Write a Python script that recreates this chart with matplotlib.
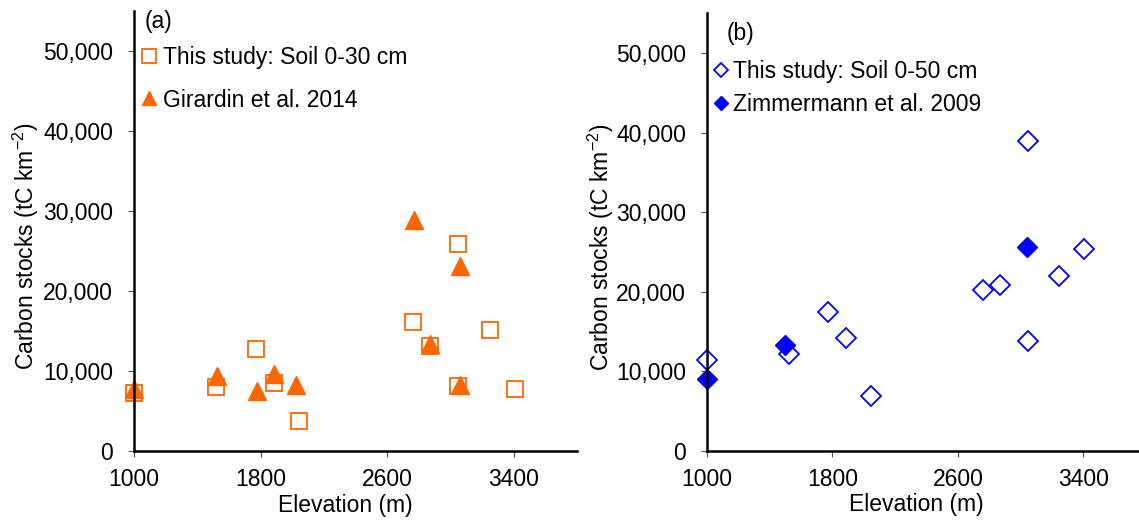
import matplotlib
matplotlib.use('Agg')
import matplotlib.pyplot as plt
from matplotlib.ticker import FuncFormatter

plt.rcParams['font.family'] = ['Liberation Sans', 'DejaVu Sans']
plt.rcParams['mathtext.default'] = 'regular'

# Panel (a): soil 0-30 cm vs Girardin et al. 2014
elev_a = [1000, 1520, 1770, 1885, 2045, 2765, 2870, 3050, 3050, 3250, 3410]
soil_30 = [7300, 8050, 12700, 8550, 3800, 16150, 13150, 25900, 8150, 15150, 7800]
elev_gir = [1000, 1525, 1780, 1885, 2025, 2768, 2872, 3058, 3058]
girardin = [7700, 9350, 7550, 9650, 8300, 28850, 13350, 23100, 8200]

# Panel (b): soil 0-50 cm vs Zimmermann et al. 2009
elev_b = [1000, 1520, 1770, 1885, 2045, 2762, 2868, 3050, 3048, 3245, 3405]
soil_50 = [11400, 12100, 17400, 14150, 6850, 20200, 20800, 38950, 13850, 22000, 25350]
elev_zim = [1000, 1500, 3040]
zimmermann = [9050, 13350, 25600]

xticks = [1000, 1800, 2600, 3400]
yticks = [0, 10000, 20000, 30000, 40000, 50000]

orange = '#FF6600'
blue = '#0000FF'
fs = 16.5

fig = plt.figure(figsize=(11.39, 5.2), dpi=100)
ax1 = fig.add_axes([0.1176, 0.1327, 0.389, 0.846])
ax2 = fig.add_axes([0.6207, 0.1333, 0.3854, 0.841])

ax1.plot(elev_a, soil_30, 's', ms=12, mfc='none', mec=orange, mew=1.3,
         label='This study: Soil 0-30 cm')
ax1.plot(elev_gir, girardin, '^', ms=12.6, color=orange, mec=orange,
         label='Girardin et al. 2014')

ax2.plot(elev_b, soil_50, 'D', ms=10.2, mfc='none', mec=blue, mew=1.3,
         label='This study: Soil 0-50 cm')
ax2.plot(elev_zim, zimmermann, 'D', ms=10.5, color=blue, mec=blue,
         label='Zimmermann et al. 2009')

fmt = FuncFormatter(lambda v, p: '{:,.0f}'.format(v))
for ax in (ax1, ax2):
    ax.set_xlim(1000, 3800)
    ax.set_ylim(0, 55000)
    ax.set_xticks(xticks)
    ax.set_yticks(yticks)
    ax.yaxis.set_major_formatter(fmt)
    ax.spines['top'].set_visible(False)
    ax.spines['right'].set_visible(False)
    for s in ('left', 'bottom'):
        ax.spines[s].set_linewidth(1.8)
    ax.tick_params(axis='both', direction='out', length=4, width=0.8,
                   color='#555555', labelsize=fs)
    ax.tick_params(axis='x', pad=8.5)
    ax.tick_params(axis='y', pad=11)
    ax.set_xlabel('Elevation (m)', fontsize=fs)
    ax.set_ylabel('Carbon stocks (tC km$^{-2}$)', fontsize=fs)
    ax.xaxis.set_label_coords(0.478, -0.097)
    for m in ax.lines:
        m.set_clip_on(False)

ax1.yaxis.set_label_coords(-0.209, 0.464)
ax2.yaxis.set_label_coords(-0.208, 0.464)

ax1.text(0.025, 0.977, '(a)', transform=ax1.transAxes, fontsize=fs,
         va='center', ha='left')
ax2.text(0.0456, 0.955, '(b)', transform=ax2.transAxes, fontsize=fs,
         va='center', ha='left')

ax1.legend(loc='upper left', bbox_to_anchor=(0.016, 0.920), frameon=False,
           fontsize=fs, borderpad=0, borderaxespad=0, handlelength=0.70,
           handletextpad=0.26, labelspacing=0.84, markerscale=0.84)
ax2.legend(loc='upper left', bbox_to_anchor=(0.0137, 0.894), frameon=False,
           fontsize=fs, borderpad=0, borderaxespad=0, handlelength=0.70,
           handletextpad=0.17, labelspacing=0.44, markerscale=0.67)

fig.savefig('out.png', dpi=100)
